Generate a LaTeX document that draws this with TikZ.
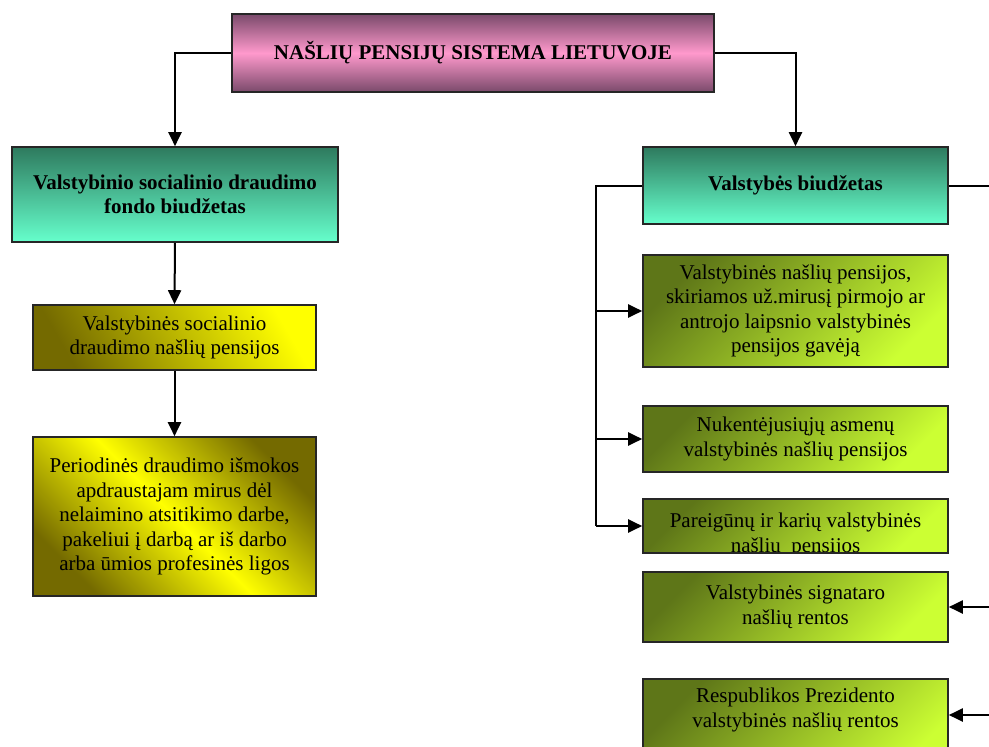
\documentclass[tikz,border=0pt]{standalone}
\usepackage{fontspec}
\setmainfont{Liberation Serif}
\usetikzlibrary{arrows.meta}
\definecolor{pinkdark}{HTML}{7A4A6B}
\definecolor{pinklight}{HTML}{FF99CC}
\definecolor{tealdark}{HTML}{2E7A5E}
\definecolor{teallight}{HTML}{66FFCC}
\definecolor{olivedark}{HTML}{5E7618}
\definecolor{limelight}{HTML}{CCFF33}
\definecolor{ydark}{HTML}{746A00}
\definecolor{ylight}{HTML}{FFFF00}
\begin{document}
\begin{tikzpicture}[x=1pt,y=-1pt,
  box/.style={draw=black!85, line width=1.6pt, inner sep=0pt, align=center,
    font=\fontsize{21}{24.5}\selectfont},
  titlebox/.style={box, top color=pinkdark, bottom color=pinkdark, middle color=pinklight,
    font=\bfseries\fontsize{21}{24.5}\selectfont},
  tealbox/.style={box, top color=tealdark, bottom color=teallight,
    font=\bfseries\fontsize{21}{24.5}\selectfont},
  greenbox/.style={box, top color=olivedark, bottom color=limelight, shading angle=45},
  yboxa/.style={box, top color=ylight, bottom color=ydark, shading angle=-60},
  yboxb/.style={box, top color=ydark, bottom color=ydark, middle color=ylight, shading angle=-45},
  txt/.style={inner sep=0pt, align=center, font=\fontsize{21}{24.5}\selectfont},
  conn/.style={line width=2pt, draw=black},
  arr/.style={conn, -{Triangle[length=14pt,width=13pt]}}]
\useasboundingbox (0,0) rectangle (989,747);

\node[titlebox, minimum width=482pt, minimum height=78pt] (top) at (473,53)
  {NAŠLIŲ PENSIJŲ SISTEMA LIETUVOJE};

\node[tealbox, minimum width=326pt, minimum height=95pt] (lt) at (175,194.5)
  {Valstybinio socialinio draudimo\\fondo biudžetas};
\node[yboxa, minimum width=283pt, minimum height=65pt] (y1) at (174.5,337.5)
  {Valstybinės socialinio\\draudimo našlių pensijos};
\node[yboxb, minimum width=283pt, minimum height=159pt] (y2) at (174.5,516.5)
  {Periodinės draudimo išmokos\\apdraustajam mirus dėl\\nelaimino atsitikimo darbe,\\pakeliui į darbą ar iš darbo\\arba ūmios profesinės ligos};

\node[tealbox, minimum width=305pt, minimum height=77pt] (rt) at (795.5,185.5)
  {Valstybės biudžetas};
\node[greenbox, minimum width=305pt, minimum height=112pt] (g1) at (795.5,311)
  {Valstybinės našlių pensijos,\\skiriamos už.mirusį pirmojo ar\\antrojo laipsnio valstybinės\\pensijos gavėją};
\node[greenbox, minimum width=305pt, minimum height=66pt] (g2) at (795.5,439)
  {Nukentėjusiųjų asmenų\\valstybinės našlių pensijos};
\node[greenbox, draw=none, outer sep=0pt, minimum width=305pt, minimum height=54pt] (g3) at (795.5,526) {};
\begin{scope}
  \clip (g3.south west) rectangle (g3.north east);
  \node[txt] (g3t) at (795.5,535) {Pareigūnų ir karių valstybinės\\našlių\ \ pensijos};
\end{scope}
\draw[draw=black!85, line width=1.6pt] (g3.south west) rectangle (g3.north east);
\node[greenbox, minimum width=305pt, minimum height=70pt] (g4) at (795.5,607)
  {Valstybinės signataro\\našlių rentos};
\node[greenbox, minimum width=305pt, minimum height=100pt] (g5) at (795.5,729) {};
\node[txt] (g5t) at (795.5,710) {Respublikos Prezidento\\valstybinės našlių rentos};

% connectors
\draw[arr] (top.west) -| (lt.north);
\draw[arr] (top.east) -| (rt.north);
\draw[arr] (lt.south) -- (y1.north);
\draw[arr] (y1.south) -- (y2.north);

\coordinate (lb) at (596,526);
\draw[conn] (rt.west) -| (lb);
\draw[arr] (g1.west -| lb) -- (g1.west);
\draw[arr] (g2.west -| lb) -- (g2.west);
\draw[arr, shorten >=0.8pt] (lb) -- (g3.west);

\coordinate (rb) at (993,715);
\draw[conn] (rt.east) -| (rb);
\draw[arr] (g4.east -| rb) -- (g4.east);
\draw[arr] (rb) -- (g5.east |- rb);
\end{tikzpicture}
\end{document}
